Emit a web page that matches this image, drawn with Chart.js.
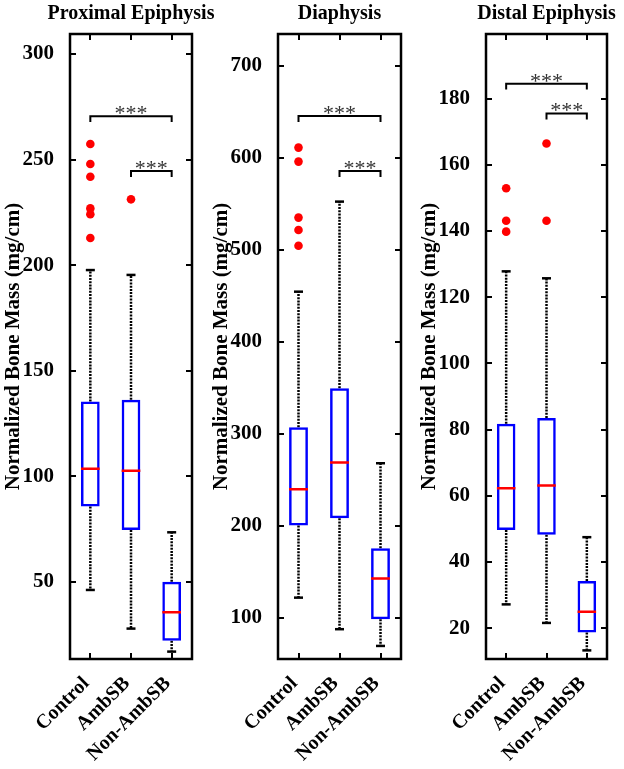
<!DOCTYPE html>
<html>
<head>
<meta charset="utf-8">
<script src="https://cdn.jsdelivr.net/npm/chart.js@4/dist/chart.umd.min.js"></script>
<style>
  html, body { margin: 0; padding: 0; background: #fff; }
  #wrap { position: relative; width: 624px; height: 769px; }
  canvas { position: absolute; top: 0; }
</style>
</head>
<body>
<div id="wrap">
  <canvas id="c1" width="218" height="769" style="left:0px"></canvas>
  <canvas id="c2" width="208" height="769" style="left:208px"></canvas>
  <canvas id="c3" width="208" height="769" style="left:416px"></canvas>
</div>
<script>
(function () {
  'use strict';

  var categories = ['Control', 'AmbSB', 'Non-AmbSB'];
  var sigPairs = [[1, 3], [2, 3]];
  var sigLabel = '***';

  // ── Proximal epiphysis ──────────────────────────────────────────────────
  var proxLow = [46.2, 27.9, 17.0];
  var proxQ1 = [85.7, 74.6, 22.1];
  var proxMed = [103.6, 102.7, 35.6];
  var proxQ3 = [135.4, 136.3, 50.1];
  var proxHigh = [197.7, 195.4, 73.5];
  var proxOutliers = [[257.4, 247.9, 241.9, 226.9, 224.1, 212.9], [231.2], []];
  var proxSig = [270.6, 244.6];

  // ── Diaphysis ───────────────────────────────────────────────────────────
  var diaLow = [121.7, 87.4, 69.2];
  var diaQ1 = [200.0, 208.0, 98.2];
  var diaMed = [239.5, 268.5, 142.4];
  var diaQ3 = [307.0, 349.3, 175.4];
  var diaHigh = [454.3, 552.2, 267.8];
  var diaOutliers = [[610.9, 595.7, 534.8, 521.4, 504.3], [], []];
  var diaSig = [645.3, 585.5];

  // ── Distal epiphysis ────────────────────────────────────────────────────
  var distLow = [27.2, 21.6, 13.3];
  var distQ1 = [49.7, 48.2, 18.7];
  var distMed = [62.3, 63.1, 25.0];
  var distQ3 = [81.8, 83.5, 34.3];
  var distHigh = [127.8, 125.7, 47.5];
  var distOutliers = [[152.9, 143.1, 139.8], [166.4, 143.1], []];
  var distSig = [184.5, 175.5];

  var FONT = '"Liberation Serif", "Times New Roman", serif';
  var HALF_BOX = 0.23;

  // inward tick marks + box frame, MATLAB style
  var framePlugin = {
    id: 'frame',
    afterDatasetsDraw: function (chart) {
      var a = chart.chartArea;
      var ctx = chart.ctx;
      var xs = chart.scales.x, ys = chart.scales.y;
      var len = 6;
      ctx.save();
      ctx.strokeStyle = '#000';
      ctx.lineWidth = 2;
      ctx.beginPath();
      ys.ticks.forEach(function (t) {
        var y = Math.round(ys.getPixelForValue(t.value));
        ctx.moveTo(a.left, y); ctx.lineTo(a.left + len, y);
        ctx.moveTo(a.right, y); ctx.lineTo(a.right - len, y);
      });
      xs.ticks.forEach(function (t) {
        var x = Math.round(xs.getPixelForValue(t.value));
        ctx.moveTo(x, a.top); ctx.lineTo(x, a.top + len);
        ctx.moveTo(x, a.bottom); ctx.lineTo(x, a.bottom - len);
      });
      ctx.stroke();
      ctx.lineWidth = 2.5;
      ctx.strokeRect(a.left, a.top, a.right - a.left, a.bottom - a.top);
      ctx.restore();
    }
  };

  // panel title centred over the plot area, plus significance stars
  var labelsPlugin = {
    id: 'labels',
    afterDatasetsDraw: function (chart, args, opts) {
      var ctx = chart.ctx;
      var a = chart.chartArea;
      var xs = chart.scales.x, ys = chart.scales.y;
      ctx.save();
      ctx.fillStyle = '#000';
      ctx.font = 'bold 20px ' + FONT;
      ctx.textAlign = 'center';
      ctx.textBaseline = 'middle';
      ctx.fillText(opts.title, (a.left + a.right) / 2, 14);

      ctx.fillStyle = '#333';
      ctx.font = '22px ' + FONT;
      ctx.textBaseline = 'alphabetic';
      sigPairs.forEach(function (p, j) {
        var x = (xs.getPixelForValue(p[0]) + xs.getPixelForValue(p[1])) / 2;
        var y = ys.getPixelForValue(opts.levels[j]);
        ctx.fillText(sigLabel, x, y + 4);
      });
      ctx.restore();
    }
  };

  function buildPanel(id, title, low, q1, med, q3, high, outliers, sig, yMin, yMax, step, padRight) {
    var xs = categories.map(function (c, i) { return i + 1; });
    var boxes = [], medians = [], whiskers = [], caps = [], dots = [], brackets = [];
    var drop = (yMax - yMin) * 0.0095;

    xs.forEach(function (x, i) {
      boxes.push({ x: x, y: [q1[i], q3[i]] });
      medians.push({ x: x - HALF_BOX, y: med[i] }, { x: x + HALF_BOX, y: med[i] }, { x: x, y: null });
      whiskers.push({ x: x, y: q3[i] }, { x: x, y: high[i] }, { x: x, y: null },
                    { x: x, y: q1[i] }, { x: x, y: low[i] }, { x: x, y: null });
      caps.push({ x: x, y: high[i] }, { x: x, y: low[i] });
      outliers[i].forEach(function (v) { dots.push({ x: x, y: v }); });
    });
    sigPairs.forEach(function (p, j) {
      brackets.push({ x: p[0], y: sig[j] - drop }, { x: p[0], y: sig[j] },
                    { x: p[1], y: sig[j] }, { x: p[1], y: sig[j] - drop }, { x: p[1], y: null });
    });

    new Chart(document.getElementById(id), {
      type: 'scatter',
      data: {
        datasets: [
          { type: 'line', data: whiskers, borderColor: '#000', borderWidth: 2.5,
            borderDash: [2, 1.2], pointRadius: 0, spanGaps: false, order: 5 },
          { type: 'bar', data: boxes, backgroundColor: 'rgba(0,0,0,0)', borderColor: '#0000ff',
            borderWidth: 2.5, borderSkipped: false, barPercentage: 0.46, categoryPercentage: 1, order: 4 },
          { type: 'line', data: medians, borderColor: '#ff0000', borderWidth: 2.5,
            pointRadius: 0, spanGaps: false, order: 3 },
          { data: caps, pointStyle: 'line', pointRadius: 4.5, pointBorderWidth: 2.5,
            pointBorderColor: '#000', order: 2 },
          { data: dots, pointRadius: 4.3, pointBackgroundColor: '#ff0000',
            pointBorderColor: '#ff0000', pointBorderWidth: 0, order: 1 },
          { type: 'line', data: brackets, borderColor: '#000', borderWidth: 2,
            pointRadius: 0, spanGaps: false, order: 0 }
        ]
      },
      options: {
        responsive: false,
        devicePixelRatio: 1,
        animation: false,
        layout: { padding: { left: 0, right: padRight, top: 34, bottom: 0 } },
        plugins: {
          legend: { display: false },
          tooltip: { enabled: false },
          title: { display: false },
          labels: { title: title, levels: sig }
        },
        scales: {
          x: {
            type: 'linear',
            min: 0.5,
            max: 3.5,
            offset: false,
            grid: { display: false },
            border: { display: false },
            afterBuildTicks: function (scale) {
              scale.ticks = xs.map(function (v) { return { value: v }; });
            },
            afterFit: function (scale) { scale.height = 110; },
            ticks: {
              autoSkip: false,
              minRotation: 45,
              maxRotation: 45,
              padding: 5,
              labelOffset: -4,
              color: '#000',
              font: { family: FONT, size: 20, weight: 'bold' },
              callback: function (v) { return categories[v - 1]; }
            }
          },
          y: {
            min: yMin,
            max: yMax,
            grid: { display: false },
            border: { display: false },
            afterBuildTicks: function (scale) {
              var t = [];
              for (var v = Math.ceil(yMin / step) * step; v <= yMax; v += step) {
                t.push({ value: v });
              }
              scale.ticks = t;
            },
            afterFit: function (scale) { scale.width = 70; },
            ticks: {
              padding: 8,
              color: '#000',
              font: { family: FONT, size: 21, weight: 'bold' }
            },
            title: {
              display: true,
              text: 'Normalized Bone Mass (mg/cm)',
              color: '#000',
              font: { family: FONT, size: 21, weight: 'bold' },
              padding: { top: 1, bottom: 0 }
            }
          }
        }
      },
      plugins: [framePlugin, labelsPlugin]
    });
  }

  buildPanel('c1', 'Proximal Epiphysis', proxLow, proxQ1, proxMed, proxQ3, proxHigh,
             proxOutliers, proxSig, 13.5, 309.5, 50, 26);
  buildPanel('c2', 'Diaphysis', diaLow, diaQ1, diaMed, diaQ3, diaHigh,
             diaOutliers, diaSig, 55, 734.4, 100, 15);
  buildPanel('c3', 'Distal Epiphysis', distLow, distQ1, distMed, distQ3, distHigh,
             distOutliers, distSig, 10.7, 199.5, 20, 17);

}());
</script>
</body>
</html>
